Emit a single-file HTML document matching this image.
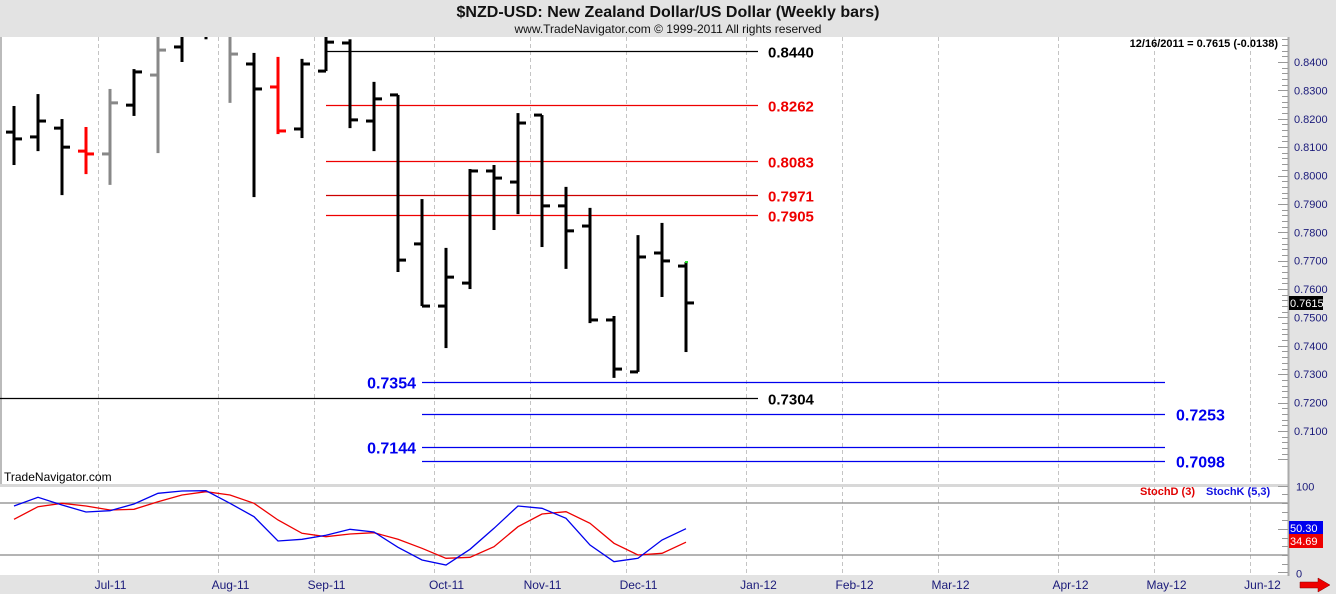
<!DOCTYPE html>
<html><head><meta charset="utf-8"><style>
html,body{margin:0;padding:0;background:#e3e3e3;}
svg{display:block;font-family:"Liberation Sans",Arial,sans-serif;}
</style></head><body>
<svg id="c" width="1336" height="594" viewBox="0 0 1336 594" xmlns="http://www.w3.org/2000/svg">
<rect x="0" y="0" width="1336" height="594" fill="#e3e3e3"/>
<text x="668" y="17" text-anchor="middle" font-size="16" font-weight="bold" fill="#111">$NZD-USD:  New Zealand Dollar/US Dollar  (Weekly bars)</text>
<text x="668" y="33" text-anchor="middle" font-size="12" fill="#111">www.TradeNavigator.com © 1999-2011 All rights reserved</text>
<rect x="0" y="37" width="1288" height="447" fill="#fff"/>
<rect x="0" y="487" width="1288" height="88" fill="#fff"/>
<line x1="1" y1="37" x2="1" y2="484" stroke="#bbb" stroke-width="2"/>
<g id="grid"></g>
<g id="levels"></g>
<g id="bars"></g>
<g id="stoch"></g>
<g id="axis"></g>
<text x="1278" y="47" text-anchor="end" font-size="11" font-weight="bold" fill="#000">12/16/2011 = 0.7615 (-0.0138)</text>
<text x="4" y="481" font-size="12" fill="#000">TradeNavigator.com</text>
<text x="1140" y="495" font-size="11" font-weight="bold" fill="#e00000">StochD (3)</text>
<text x="1206" y="495" font-size="11" font-weight="bold" fill="#1010e0">StochK (5,3)</text>
<polygon points="1300,582 1318,582 1318,578 1330,585 1318,592 1318,588 1300,588" fill="#ee0000" stroke="#800" stroke-width="0.5"/>
</svg>
<script>
// ---- data ----
const weeks = ["Jun-10","Jun-17","Jun-24","Jul-01","Jul-08","Jul-15","Jul-22","Jul-29","Aug-05","Aug-12","Aug-19","Aug-26","Sep-02","Sep-09","Sep-16","Sep-23","Sep-30","Oct-07","Oct-14","Oct-21","Oct-28","Nov-04","Nov-11","Nov-18","Nov-25","Dec-02","Dec-09","Dec-16","Dec-23"];
const opens  = [0.8153,0.8136,0.8167,0.8086,0.8076,0.8248,0.8354,0.8453,0.8500,0.8520,0.8393,0.8312,0.8164,0.8368,0.8467,0.8192,0.8284,0.7759,0.7540,0.7621,0.8016,0.7977,0.8213,0.7893,0.7822,0.7491,0.7308,0.7727,0.7681];
const highs  = [0.8245,0.8287,0.8199,0.8171,0.8305,0.8375,0.8600,0.8600,0.8620,0.8600,0.8432,0.8418,0.8411,0.8488,0.8480,0.8330,0.8284,0.7917,0.7745,0.8023,0.8037,0.8220,0.8213,0.7960,0.7886,0.7505,0.7790,0.7833,0.7695];
const lows   = [0.8037,0.8086,0.7931,0.8005,0.7967,0.8210,0.8079,0.8400,0.8480,0.8256,0.7924,0.8146,0.8132,0.8368,0.8167,0.8086,0.7660,0.7540,0.7392,0.7600,0.7808,0.7864,0.7748,0.7671,0.7480,0.7287,0.7308,0.7572,0.7378];
const closes = [0.8129,0.8192,0.8100,0.8076,0.8256,0.8365,0.8442,0.8550,0.8580,0.8428,0.8305,0.8157,0.8393,0.8470,0.8196,0.8270,0.7702,0.7540,0.7642,0.8016,0.7991,0.8185,0.7893,0.7805,0.7491,0.7318,0.7713,0.7699,0.7551];
const barColors = ["#000","#000","#000","#f00","#888","#000","#888","#000","#000","#888","#000","#f00","#000","#000","#000","#000","#000","#000","#000","#000","#000","#000","#000","#000","#000","#000","#000","#000","#000"];
const stochK = [76.5,86.5,77.7,69.6,71.1,78.8,91.1,93.8,94.2,79.6,64.2,36.1,38.1,42.7,49.6,46.5,28.8,14.2,8.4,26.5,50.8,76.5,73.8,62.3,31.5,12.2,16.1,37.3,50.3];
const stochD = [61.1,75.7,79.6,76.5,71.9,72.7,81.5,89.2,93.0,89.2,79.6,60.3,45.0,41.1,44.2,45.7,38.1,27.7,16.1,17.3,29.5,52.6,67.3,69.9,56.5,33.5,20.0,21.9,34.69];
const levelLabels = ["0.8440","0.8262","0.8083","0.7971","0.7905","0.7354","0.7304","0.7253","0.7144","0.7098"];
const levelPrices = [0.8439,0.8248,0.8051,0.7931,0.7861,0.7272,0.7216,0.7160,0.7043,0.6994];
const priceTicks = [0.84,0.83,0.82,0.81,0.80,0.79,0.78,0.77,0.76,0.75,0.74,0.73,0.72,0.71];
const monthLabels = ["Jul-11","Aug-11","Sep-11","Oct-11","Nov-11","Dec-11","Jan-12","Feb-12","Mar-12","Apr-12","May-12","Jun-12"];
const monthWeekIdx = [3.5,8.5,12.5,17.5,21.5,25.5,30.5,34.5,38.5,43.5,47.5,51.5];

// ---- scales ----
const NS="http://www.w3.org/2000/svg";
const xB = i => 14 + 24*i;
const yP = p => 62 + (0.84 - p)*2838;
const yS = v => 572.3 - v*0.8667;
function mk(tag, attrs, parent){const e=document.createElementNS(NS,tag);for(const k in attrs)e.setAttribute(k,attrs[k]);parent.appendChild(e);return e;}

const grid=document.getElementById('grid');
monthWeekIdx.forEach((w,i)=>{
  const x=Math.round(xB(w))+0.5;
  const l=mk('line',{x1:x,y1:37,x2:x,y2:575,stroke:'#c4c4c4','stroke-dasharray':'4,3'},grid);
  
  
  const t=mk('text',{x:x+12,y:589,'text-anchor':'middle','font-size':12,fill:'#1a1a7a'},grid);
  t.textContent=monthLabels[i];
  
  
});
[80,20].forEach(v=>{
  const l=mk('line',{x1:0,y1:yS(v),x2:1288,y2:yS(v),stroke:'#888','stroke-width':1.2},grid);
  
  
});
mk('rect',{x:0,y:484,width:1288,height:3,fill:'#d8d8d8'},grid);

// levels
const lv=document.getElementById('levels');
const lvCol=["#000","#e00","#e00","#c00","#e00","#00e","#000","#00e","#00e","#00e"];
const lvX1=[326,326,326,326,326,422,0,422,422,422];
const lvX2=[758,758,758,758,758,1165,758,1165,1165,1165];
const lvLx=[768,768,768,768,768,416,768,1176,416,1176];
const lvAnchor=["start","start","start","start","start","end","start","start","end","start"];
const lvTextCol=["#000","#e00","#e00","#e00","#e00","#00e","#000","#00e","#00e","#00e"];
levelPrices.forEach((p,i)=>{
  const y=Math.round(yP(p))+0.5;
  const l=mk('line',{x1:lvX1[i],y1:y,x2:lvX2[i],y2:y,stroke:lvCol[i],'stroke-width':1.3},lv);
  
  
  const t=mk('text',{x:lvLx[i],y:y+6,'text-anchor':lvAnchor[i],'font-size':i>=5&&lvTextCol[i]=="#00e"?16:15,'font-weight':'bold',fill:lvTextCol[i]},lv);
  t.textContent=levelLabels[i];
  
  
});

// bars
const bars=document.getElementById('bars');
const clip=mk('clipPath',{id:'pc'},bars);mk('rect',{x:0,y:37,width:1288,height:447},clip);
const bg=mk('g',{'clip-path':'url(#pc)'},bars);
weeks.forEach((w,i)=>{
  const x=xB(i), c=barColors[i];
  const g=mk('g',{},bg);
  
  
  mk('rect',{x:x-1.5,y:yP(highs[i]),width:3,height:yP(lows[i])-yP(highs[i]),fill:c},g);
  mk('rect',{x:x-8,y:yP(opens[i])-1.5,width:8,height:3,fill:c},g);
  mk('rect',{x:x,y:yP(closes[i])-1.5,width:8,height:3,fill:c},g);
});
mk('rect',{x:xB(28)-1,y:yP(highs[28])-1,width:3,height:2,fill:'#2d2'},bg);

// stochastic
const st=document.getElementById('stoch');
const pts=a=>a.map((v,i)=>xB(i)+','+yS(v).toFixed(1)).join(' ');
const pd=mk('polyline',{points:pts(stochD),fill:'none',stroke:'#e00','stroke-width':1.3},st);


const pk=mk('polyline',{points:pts(stochK),fill:'none',stroke:'#00e','stroke-width':1.3},st);



// axis
const ax=document.getElementById('axis');
mk('line',{x1:1288.5,y1:37,x2:1288.5,y2:576,stroke:'#aaa','stroke-width':2},ax);
for(let k=0;k<=75;k++){const p=0.70+k*0.002;const y=Math.round(yP(p))+0.5;if(y<37||y>484)continue;
  mk('line',{x1:(k%5==0)?1278:1282,y1:y,x2:1288,y2:y,stroke:'#999'},ax);}
priceTicks.forEach(p=>{
  const t=mk('text',{x:1294,y:yP(p)+4,'font-size':11,fill:'#1a1a7a'},ax);
  t.textContent=p.toFixed(4);
  
  
});
for(let v=0;v<=100;v+=10){const y=Math.round(yS(v))+0.5;mk('line',{x1:(v%50==0)?1278:1282,y1:y,x2:1288,y2:y,stroke:'#999'},ax);}
[[100,'100'],[0,'0']].forEach(([v,s])=>{const t=mk('text',{x:1296,y:yS(v)+5,'font-size':11,fill:'#1a1a7a'},ax);t.textContent=s;
  
  });
function tag(y,txt,bgc,name){mk('rect',{x:1289,y:y-7,width:34,height:14,fill:bgc},ax);
  const t=mk('text',{x:1290,y:y+4,'font-size':11,fill:'#fff'},ax);t.textContent=txt;
  
  }
tag(303,'0.7615','#000','last-price-tag');
tag(528,stochK[stochK.length-1].toFixed(2),'#0000ee','stochk-value-tag');
tag(541,stochD[stochD.length-1].toFixed(2),'#ee0000','stochd-value-tag');
</script>
</body></html>
